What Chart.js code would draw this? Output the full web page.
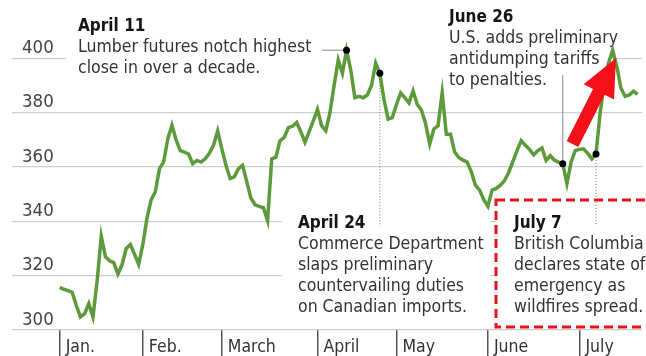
<!DOCTYPE html>
<html>
<head>
<meta charset="utf-8">
<script src="https://cdn.jsdelivr.net/npm/chart.js@4"></script>
<style>
  body { margin: 0; background: #fff; }
  #lumberChart { display: block; }
</style>
</head>
<body>
<canvas id="lumberChart" width="646" height="356"></canvas>
<script>
// Lumber futures, daily close (trading days from Jan. 3)
const months = ['Jan.', 'Feb.', 'March', 'April', 'May', 'June', 'July'];
const monthStart = [0, 20, 39, 62, 81, 103, 125];
const yTicks = [300, 320, 340, 360, 380, 400];

const prices = [
  315.7, 315, 314.5, 313.9, 309, 304.8, 306, 309.7, 304.8, 318,
  334.5, 327, 325.5, 324.8, 320.6, 324, 330, 331.5, 327.9, 324.2,
  331.5, 341.2, 347.9, 350.9, 359.4, 361.8, 370.3, 375.4, 370, 366,
  365.5, 364.8, 361.2, 362.4, 361.8, 363, 365, 368, 373.3, 366.7,
  360.6, 355.8, 356.4, 359.4, 360.6, 354.5, 348.5, 346.1, 345.5, 345,
  340.3, 363, 363.6, 369.7, 370.9, 374.5, 375, 376.4, 373, 369.1,
  373, 377, 381.2, 375.2, 373.3, 380, 390, 399.4, 394.5, 403,
  395.8, 385.5, 386, 385.5, 386.5, 390, 398.2, 394.5, 384.8, 377.6,
  378.2, 383, 387.3, 385.5, 383.6, 388, 383, 381, 376, 368.5,
  374, 375.2, 387.3, 372.1, 372.1, 365.5, 363.5, 362.5, 361.8, 358.2,
  353.3, 351.5, 348, 345.5, 351.5, 352.1, 353.3, 355, 358, 362,
  366, 369.7, 368, 366.5, 364.5, 366, 367, 362.4, 364.2, 362.5,
  361.8, 361.2, 353.9, 361.8, 366, 366.5, 366.7, 365, 363, 364.8,
  380, 390.9, 398.2, 403, 397, 389, 386, 386.5, 387.9, 386.7
];

// days with a note: April 11, April 24, June 26, July 7
const eventDays = [69, 77, 121, 129];
const noteTitles = ['April 11', 'April 24', 'June 26', 'July 7'];
const noteLines = [
  ['Lumber futures notch highest', 'close in over a decade.'],
  ['Commerce Department', 'slaps preliminary', 'countervailing duties', 'on Canadian imports.'],
  ['U.S. adds preliminary', 'antidumping tariffs', 'to penalties.'],
  ['British Columbia', 'declares state of', 'emergency as', 'wildfires spread.']
];

const FONT = '"DejaVu Sans Condensed", "Liberation Sans Narrow", "DejaVu Sans", sans-serif';

// where each note sits on the page
const noteLayout = [
  { x: 78, y: 31, bg: [66, 6, 324, 76] },
  { x: 298, y: 228, bg: [282, 208, 208, 118] },
  { x: 449, y: 22, bg: [388, 0, 224, 92] },
  { x: 514, y: 228, bg: [496, 200, 160, 127] }
];

const notesPlugin = {
  id: 'notes',
  beforeDatasetsDraw(chart) {
    const c = chart.ctx;
    const xs = chart.scales.x, ys = chart.scales.y;
    c.save();
    // white boxes behind the notes hide the grid
    noteLayout.forEach(l => {
      c.fillStyle = '#fff';
      c.fillRect(l.bg[0], l.bg[1], l.bg[2], l.bg[3]);
    });
    noteLayout.forEach((l, i) => {
      c.textBaseline = 'alphabetic';
      c.textAlign = 'left';
      c.fillStyle = '#151515';
      c.font = 'bold 17px ' + FONT;
      c.fillText(noteTitles[i], l.x, l.y);
      c.fillStyle = '#333';
      c.font = '17.5px ' + FONT;
      noteLines[i].forEach((t, j) => c.fillText(t, l.x, l.y + 21 * (j + 1)));
    });

    // leader lines from the notes to the dots
    const px = d => xs.getPixelForValue(d);
    const py = d => ys.getPixelForValue(prices[d]);
    c.strokeStyle = '#888';
    c.lineWidth = 1;
    c.beginPath();
    c.moveTo(322, py(eventDays[0]));
    c.lineTo(px(eventDays[0]), py(eventDays[0]));
    c.moveTo(px(eventDays[2]), 75);
    c.lineTo(px(eventDays[2]), py(eventDays[2]));
    c.stroke();
    c.setLineDash([1, 2]);
    c.strokeStyle = '#777';
    c.beginPath();
    c.moveTo(px(eventDays[1]), py(eventDays[1]));
    c.lineTo(px(eventDays[1]), 226);
    c.moveTo(px(eventDays[3]), py(eventDays[3]));
    c.lineTo(px(eventDays[3]), 226);
    c.stroke();
    c.restore();
  },
  afterDatasetsDraw(chart) {
    const c = chart.ctx;
    c.save();
    // red dashed frame round the July 7 note
    c.strokeStyle = '#e8141a';
    c.lineWidth = 3;
    c.setLineDash([9, 5]);
    c.strokeRect(496, 200, 170, 127);
    c.setLineDash([]);

    // big red arrow
    const tail = [572.5, 144], tip = [616, 58];
    const dx = tip[0] - tail[0], dy = tip[1] - tail[1];
    const len = Math.hypot(dx, dy);
    const ux = dx / len, uy = dy / len, nx = -uy, ny = ux;
    const hw = 6.5, headW = 17, headL = 38;
    const bx = tip[0] - ux * headL, by = tip[1] - uy * headL;
    c.fillStyle = '#f4111a';
    c.beginPath();
    c.moveTo(tail[0] + nx * hw, tail[1] + ny * hw);
    c.lineTo(bx + nx * hw, by + ny * hw);
    c.lineTo(bx + nx * headW, by + ny * headW);
    c.lineTo(tip[0], tip[1]);
    c.lineTo(bx - nx * headW, by - ny * headW);
    c.lineTo(bx - nx * hw, by - ny * hw);
    c.lineTo(tail[0] - nx * hw, tail[1] - ny * hw);
    c.closePath();
    c.fill();
    c.restore();
  }
};

const ctx = document.getElementById('lumberChart').getContext('2d');
const lumberChart = new Chart(ctx, {
  type: 'line',
  data: {
    datasets: [{
      data: eventDays.map(d => ({ x: d, y: prices[d] })),
      showLine: false,
      pointRadius: 3.5,
      pointBackgroundColor: '#000',
      pointBorderWidth: 0,
      order: 1
    }, {
      data: prices.map((v, i) => ({ x: i, y: v })),
      borderColor: '#5c9a3b',
      borderWidth: 3.5,
      pointRadius: 0,
      tension: 0,
      fill: false,
      order: 2
    }]
  },
  options: {
    responsive: false,
    animation: false,
    layout: { padding: 0 },
    plugins: {
      legend: { display: false },
      tooltip: { enabled: false }
    },
    scales: {
      x: {
        type: 'linear',
        min: -11.47,
        max: 140.06,
        afterBuildTicks: s => { s.ticks = monthStart.map(v => ({ value: v })); },
        afterFit: s => {
          s.height = 26;
          s.paddingLeft = 0;
          s.paddingRight = 0;
        },
        grid: { drawOnChartArea: false, tickLength: 26, color: '#555', lineWidth: 1.5 },
        border: { display: false },
        ticks: {
          autoSkip: false,
          maxRotation: 0,
          align: 'start',
          labelOffset: 6,
          padding: -19,
          color: '#333',
          font: { family: FONT, size: 17.5 },
          callback: v => months[monthStart.indexOf(v)]
        }
      },
      y: {
        min: 300,
        max: 420,
        afterBuildTicks: s => { s.ticks = yTicks.map(v => ({ value: v })); },
        afterFit: s => {
          s.width = 12;
          s.paddingTop = 0;
          s.paddingBottom = 0;
        },
        grid: { color: '#cdcdcd', lineWidth: 1.3, drawTicks: false },
        border: { display: false },
        ticks: {
          mirror: true,
          padding: 10,
          labelOffset: -10,
          color: '#444',
          font: { family: FONT, size: 18.5 }
        }
      }
    }
  },
  plugins: [notesPlugin]
});
</script>
</body>
</html>
